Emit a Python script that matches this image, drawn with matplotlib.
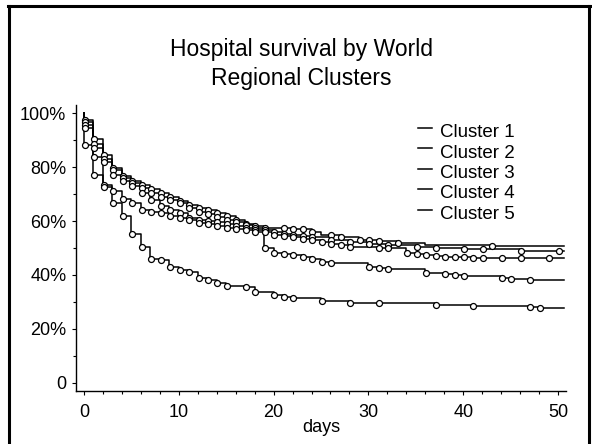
import numpy as np
import matplotlib.pyplot as plt
from matplotlib.lines import Line2D

plt.rcParams['font.family'] = ['Liberation Sans', 'DejaVu Sans']

labels = ["Cluster 1", "Cluster 2", "Cluster 3", "Cluster 4", "Cluster 5"]
end_day = 50.6

# step times (days) and survival (%) after each drop
c1_t = [0, 1, 2, 3, 4, 5, 6, 7, 8, 9, 10, 11, 12, 13, 14, 15, 16, 17, 18, 19,
        22, 24, 25, 27, 29, 31, 33, 36, 43]
c1_s = [97.6, 90.4, 84.4, 79.5, 76.8, 75.0, 73.5, 72.0, 70.5, 69.0, 67.5, 66.0,
        65.0, 64.0, 63.0, 62.0, 60.5, 59.0, 58.0, 57.5, 57.0, 56.0, 55.0, 54.0,
        53.0, 52.5, 51.8, 51.0, 50.7]
c1_cens = [0, 1, 2, 3, 4, 5, 6, 7, 8, 9, 10, 11, 12, 13, 14, 15, 16, 17, 18,
           19, 21, 22, 23, 24, 26, 27, 29, 30, 31, 33, 43]

c2_t = [0, 1, 2, 3, 4, 5, 6, 7, 8, 9, 10, 11, 12, 13, 14, 15, 16, 17, 18, 19,
        20, 21, 22, 23, 24, 26, 28, 30, 32, 35, 37, 40, 46]
c2_s = [96.8, 88.5, 83.0, 78.9, 76.0, 74.0, 72.2, 70.5, 69.0, 67.8, 66.5, 64.7,
        63.4, 62.5, 61.5, 60.5, 59.5, 58.5, 57.5, 56.6, 55.8, 55.3, 55.0, 54.5,
        54.0, 53.0, 52.3, 51.5, 51.0, 50.5, 50.0, 49.5, 49.0]
c2_cens = [0, 1, 2, 3, 4, 5, 6, 7, 8, 9, 10, 11, 12, 13, 14, 15, 16, 17, 18,
           19, 20, 21, 22, 23, 24, 26, 28, 30, 32, 35, 37, 40, 42, 46, 50]

c3_t = [0, 1, 2, 3, 4, 5, 6, 7, 8, 9, 10, 11, 12, 13, 14, 15, 16, 17, 18, 19,
        20, 21, 22, 23, 24, 25, 26, 27, 28, 31, 34, 35, 36, 37, 38, 41]
c3_s = [95.6, 86.9, 82.0, 77.0, 75.0, 72.8, 70.2, 67.8, 65.7, 64.1, 62.8, 61.0,
        60.5, 60.1, 59.5, 59.0, 58.3, 57.5, 56.5, 55.8, 55.0, 54.5, 54.0, 53.5,
        53.0, 52.2, 51.5, 51.0, 50.5, 50.0, 48.3, 47.8, 47.4, 47.0, 46.6, 46.2]
c3_cens = [0, 1, 2, 3, 4, 5, 6, 7, 8, 9, 10, 11, 12, 13, 14, 15, 16, 17, 18,
           19, 20, 21, 22, 23, 24, 25, 26, 27, 28, 31, 32, 34, 35, 36, 37, 38,
           39, 40, 41, 42, 44, 46, 49]

c4_t = [0, 1, 2, 3, 4, 5, 6, 7, 8, 9, 10, 11, 12, 13, 14, 15, 16, 17, 18, 19,
        20, 21, 22, 23, 24, 25, 26, 30, 31, 32, 36, 38, 39, 40, 44, 45, 47]
c4_s = [94.6, 83.8, 73.5, 71.1, 68.0, 66.8, 64.1, 63.5, 62.8, 62.0, 61.3, 60.5,
        59.3, 58.8, 58.2, 57.5, 57.0, 56.5, 56.0, 50.1, 48.3, 47.8, 47.4, 46.5,
        45.8, 44.9, 44.3, 43.1, 42.5, 42.1, 40.6, 40.2, 40.0, 39.6, 38.8, 38.6,
        38.3]
c4_cens = [0, 1, 2, 3, 4, 5, 6, 7, 8, 9, 10, 11, 12, 13, 14, 15, 16, 17, 18,
           19, 20, 21, 22, 23, 24, 25, 26, 30, 31, 32, 36, 38, 39, 40, 44, 45,
           47]

c5_t = [0, 1, 2, 3, 4, 5, 6, 7, 8, 9, 10, 11, 12, 13, 14, 15, 17, 18, 20, 21,
        22, 25, 28, 31, 37, 41, 47, 48]
c5_s = [88.1, 77.0, 72.7, 66.5, 61.8, 55.3, 50.2, 45.9, 45.5, 43.1, 41.9, 41.0,
        38.8, 38.1, 37.1, 36.0, 35.5, 33.8, 32.6, 32.0, 31.4, 30.4, 29.7, 29.5,
        28.9, 28.5, 28.0, 27.7]
c5_cens = [0, 1, 2, 3, 4, 5, 6, 7, 8, 9, 10, 11, 12, 13, 14, 15, 17, 18, 20,
           21, 22, 25, 28, 31, 37, 41, 47, 48]

curves = [(c1_t, c1_s, c1_cens), (c2_t, c2_s, c2_cens), (c3_t, c3_s, c3_cens),
          (c4_t, c4_s, c4_cens), (c5_t, c5_s, c5_cens)]

W, H = 592, 444
fig = plt.figure(figsize=(W / 100, H / 100), dpi=100)
ax = fig.add_axes([76 / W, 53 / H, 490 / W, 286 / H])

for t, s, cens in curves:
    t = np.array(t, dtype=float)
    s = np.array(s, dtype=float)
    # KM step curve starting at 100% at day 0
    x = np.concatenate([[0.0], t, [end_day]])
    y = np.concatenate([[100.0], s, [s[-1]]])
    ax.plot(x, y, drawstyle='steps-post', color='black', lw=1.1, zorder=2)
    cens = np.array(cens, dtype=float)
    idx = np.searchsorted(t, cens, side='right') - 1
    ax.plot(cens + 0.08, s[idx], 'o', ms=4.3, mfc='white', mec='black',
            mew=0.9, zorder=3)

ax.set_xlim(-0.844, 50.84)
ax.set_ylim(-3, 103)
ax.set_xticks(range(0, 51, 10))
ax.set_xticks(range(0, 51, 2), minor=True)
ax.set_yticks(range(0, 101, 20))
ax.set_yticks(range(0, 101, 10), minor=True)
ax.set_yticklabels(['0', '20%', '40%', '60%', '80%', '100%'])
for side in ['top', 'right']:
    ax.spines[side].set_visible(False)
for side in ['left', 'bottom']:
    ax.spines[side].set_linewidth(1.0)
ax.tick_params(axis='both', which='both', direction='out', labelsize=13,
               width=0.8)
ax.tick_params(axis='both', which='major', length=3)
ax.tick_params(axis='both', which='minor', length=2)
ax.tick_params(axis='x', pad=6)
ax.tick_params(axis='y', pad=4)
ax.set_xlabel('days', fontsize=13, labelpad=-1)

# legend: short dash sitting near the top of each label
for i, lab in enumerate(labels):
    yb = 137 + i * 20.5
    fig.add_artist(Line2D([418 / W, 432 / W], [1 - (yb - 9) / H] * 2,
                          transform=fig.transFigure, color='black', lw=1.1))
    fig.text(440 / W, 1 - yb / H, lab, fontsize=13.5, va='baseline')

fig.text(301 / W, 1 - 56 / H, "Hospital survival by World",
         ha='center', va='baseline', fontsize=16.5)
fig.text(301 / W, 1 - 85 / H, "Regional Clusters",
         ha='center', va='baseline', fontsize=16.5)

# frame around the whole figure (left, top, right)
fw = 2.2
fig.add_artist(Line2D([8.7 / W, 8.7 / W], [0, 1 - 6.2 / H],
                      transform=fig.transFigure, color='black', lw=fw))
fig.add_artist(Line2D([7.5 / W, 590.5 / W], [1 - 6.2 / H, 1 - 6.2 / H],
                      transform=fig.transFigure, color='black', lw=fw))
fig.add_artist(Line2D([589.3 / W, 589.3 / W], [0, 1 - 6.2 / H],
                      transform=fig.transFigure, color='black', lw=fw))

fig.savefig('out.png', dpi=100)
